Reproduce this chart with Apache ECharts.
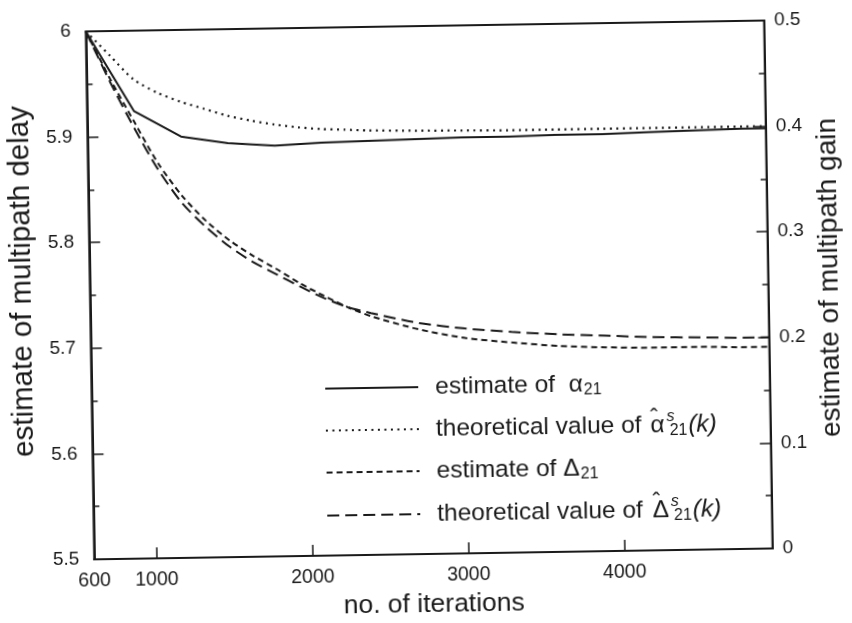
<!DOCTYPE html>
<html>
<head>
<meta charset="utf-8">
<title>Multipath delay and gain estimates</title>
<script src="https://cdn.jsdelivr.net/npm/echarts@6/dist/echarts.min.js"></script>
<style>
  html, body { margin: 0; padding: 0; background: #ffffff; overflow: hidden; }
  #main { width: 852px; height: 623px; transform: rotate(-0.92deg); transform-origin: 50% 50%; }
</style>
</head>
<body>
<div id="main"></div>
<script>
// iteration index shared by the smooth curves
const iterations = [600, 750, 900, 1050, 1200, 1350, 1500, 1650, 1800, 1950, 2100, 2250, 2400, 2700, 3000, 3300, 3600, 3900, 4200, 4500, 4800, 4950];

// estimate of alpha_21 (multipath gain, right axis)
const alphaEstIter = [600, 900, 1200, 1500, 1800, 2100, 2400, 2700, 3000, 3300, 3600, 3900, 4200, 4500, 4800, 4950];
const alphaEst = [0.5, 0.424, 0.399, 0.392, 0.389, 0.391, 0.392, 0.393, 0.394, 0.394, 0.395, 0.395, 0.396, 0.397, 0.398, 0.398];

// theoretical value of alpha-hat^s_21(k) (right axis)
const alphaTheory = [0.5, 0.477, 0.454, 0.441, 0.432, 0.425, 0.418, 0.413, 0.409, 0.406, 0.404, 0.403, 0.402, 0.401, 0.4005, 0.4, 0.4, 0.4, 0.4, 0.4, 0.4, 0.4];

// estimate of Delta_21 (multipath delay, left axis)
const deltaEst = [6.0, 5.955, 5.914, 5.874, 5.843, 5.819, 5.800, 5.785, 5.772, 5.758, 5.746, 5.735, 5.726, 5.713, 5.704, 5.699, 5.695, 5.693, 5.692, 5.692, 5.691, 5.691];

// theoretical value of Delta-hat^s_21(k) (left axis)
const deltaTheory = [6.0, 5.952, 5.908, 5.868, 5.836, 5.813, 5.794, 5.779, 5.767, 5.755, 5.744, 5.735, 5.729, 5.719, 5.713, 5.709, 5.706, 5.704, 5.702, 5.701, 5.700, 5.700];

const xTickValues = [1000, 2000, 3000, 4000];
const xLabelValues = [600, 1000, 2000, 3000, 4000];

const seriesNames = ['alphaEst', 'alphaTheory', 'deltaEst', 'deltaTheory'];
const legendLabels = {
  alphaEst: 'estimate of  {g|α}{sub|21}',
  alphaTheory: 'theoretical value of {hat|ˆ}{g|α}{sup|s}{sub|21}{it|(k)}',
  deltaEst: 'estimate of {g|Δ}{sub|21}',
  deltaTheory: 'theoretical value of {hatD|ˆ}{g|Δ}{sup|s}{sub|21}{it|(k)}'
};

const FONT = '"Liberation Sans", Arial, Helvetica, sans-serif';
const INK = '#1a1a1a';

function pairs(xs, ys) { return xs.map((x, i) => [x, ys[i]]); }
function fmt(v) { return String(Math.round(v * 10) / 10); }

const chart = echarts.init(document.getElementById('main'), null, { width: 852, height: 623 });

const yAxisCommon = {
  type: 'value',
  interval: 0.1,
  nameLocation: 'middle',
  nameRotate: 90,
  axisLine: { show: true, lineStyle: { color: INK, width: 2 } },
  axisTick: { show: true, inside: true, length: 11, lineStyle: { color: INK, width: 1.5 } },
  minorTick: { show: true, splitNumber: 2, length: 6, lineStyle: { color: INK, width: 1.5 } },
  splitLine: { show: false },
  axisLabel: { color: INK, fontFamily: FONT, fontSize: 19, formatter: fmt }
};

chart.setOption({
  backgroundColor: '#ffffff',
  animation: false,
  grid: { left: 87, top: 26, right: 78, bottom: 69, show: true, borderColor: INK, borderWidth: 2 },
  xAxis: {
    type: 'value',
    min: 600,
    max: 4950,
    name: 'no. of iterations',
    nameLocation: 'middle',
    nameGap: 37,
    nameTextStyle: { color: INK, fontFamily: FONT, fontSize: 26.5 },
    axisLine: { show: true, lineStyle: { color: INK, width: 2 } },
    axisTick: { show: true, inside: true, length: 11, customValues: xTickValues, lineStyle: { color: INK, width: 1.5 } },
    axisLabel: { color: INK, fontFamily: FONT, fontSize: 19.5, margin: 12, customValues: xLabelValues, formatter: v => String(v) },
    splitLine: { show: false }
  },
  yAxis: [
    Object.assign({}, yAxisCommon, {
      position: 'left', min: 5.5, max: 6,
      name: 'estimate of multipath delay',
      nameGap: 49,
      nameTextStyle: { color: INK, fontFamily: FONT, fontSize: 29.5, padding: [0, 0, 0, 30] },
      axisLabel: Object.assign({}, yAxisCommon.axisLabel, { margin: 15 })
    }),
    Object.assign({}, yAxisCommon, {
      position: 'right', min: 0, max: 0.5,
      name: 'estimate of multipath gain',
      nameGap: 41,
      nameTextStyle: { color: INK, fontFamily: FONT, fontSize: 28, padding: [0, 0, 0, 12] },
      axisLabel: Object.assign({}, yAxisCommon.axisLabel, { margin: 10 })
    })
  ],
  legend: {
    orient: 'vertical',
    left: 323,
    top: 373,
    padding: 0,
    itemWidth: 93,
    itemHeight: 14,
    itemGap: 10,
    data: seriesNames,
    formatter: name => legendLabels[name],
    itemStyle: { opacity: 0 },
    textStyle: {
      color: INK, fontFamily: FONT, fontSize: 24.5, lineHeight: 27, padding: [0, 0, 0, 12],
      rich: {
        g: { color: INK, fontFamily: FONT, fontSize: 24.5, lineHeight: 27 },
        hat: { color: INK, fontFamily: FONT, fontSize: 23, lineHeight: 27, width: 0, padding: [0, 0, 13, 2] },
        hatD: { color: INK, fontFamily: FONT, fontSize: 23, lineHeight: 27, width: 0, padding: [0, 0, 15, 3] },
        sub: { color: INK, fontFamily: FONT, fontSize: 16, lineHeight: 27, padding: [12, 0, 0, 1] },
        sup: { color: INK, fontFamily: FONT, fontSize: 16, lineHeight: 27, fontStyle: 'italic', padding: [0, 0, 17, 2], width: 2 },
        it: { color: INK, fontFamily: FONT, fontSize: 24.5, lineHeight: 27, fontStyle: 'italic', padding: [0, 0, 0, 1] }
      }
    }
  },
  series: [
    {
      name: 'alphaEst', type: 'line', yAxisIndex: 1, symbol: 'none',
      data: pairs(alphaEstIter, alphaEst),
      itemStyle: { color: INK },
      lineStyle: { color: INK, width: 2, type: 'solid' }
    },
    {
      name: 'alphaTheory', type: 'line', yAxisIndex: 1, symbol: 'none', smooth: 0.25,
      data: pairs(iterations, alphaTheory),
      itemStyle: { color: INK },
      lineStyle: { color: INK, width: 2.2, type: [2, 4.5] }
    },
    {
      name: 'deltaEst', type: 'line', yAxisIndex: 0, symbol: 'none', smooth: 0.25,
      data: pairs(iterations, deltaEst),
      itemStyle: { color: INK },
      lineStyle: { color: INK, width: 2, type: [6, 4] }
    },
    {
      name: 'deltaTheory', type: 'line', yAxisIndex: 0, symbol: 'none', smooth: 0.25,
      data: pairs(iterations, deltaTheory),
      itemStyle: { color: INK },
      lineStyle: { color: INK, width: 2, type: [12, 6] }
    }
  ]
});
</script>
</body>
</html>
